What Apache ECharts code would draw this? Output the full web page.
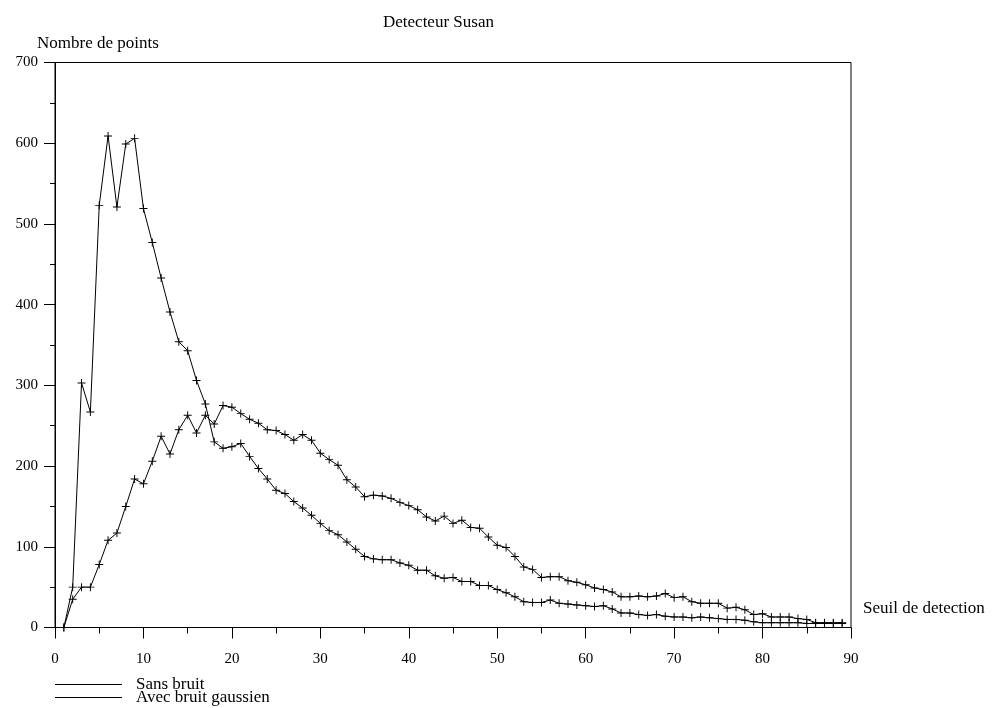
<!DOCTYPE html>
<html>
<head>
<meta charset="utf-8">
<script src="https://cdn.jsdelivr.net/npm/echarts@6/dist/echarts.min.js"></script>
<style>html,body{margin:0;padding:0;background:#fff}#c{width:997px;height:708px}</style>
</head>
<body>
<div id="c"></div>
<script>
var seuils = [1,2,3,4,5,6,7,8,9,10,11,12,13,14,15,16,17,18,19,20,21,22,23,24,25,26,27,28,29,30,31,32,33,34,35,36,37,38,39,40,41,42,43,44,45,46,47,48,49,50,51,52,53,54,55,56,57,58,59,60,61,62,63,64,65,66,67,68,69,70,71,72,73,74,75,76,77,78,79,80,81,82,83,84,85,86,87,88,89];
var avecBruit = [0,50,303,267,523,609,521,599,606,519,477,433,391,354,343,306,277,230,222,224,228,212,197,184,170,166,156,148,139,129,120,115,106,97,88,85,84,84,80,77,71,71,64,61,62,57,57,52,52,47,43,38,32,31,31,34,30,29,28,27,26,27,23,18,18,16,15,16,14,13,13,12,13,12,11,10,10,9,7,6,6,6,6,6,5,5,5,5,5];
var sansBruit = [0,35,50,50,78,108,117,150,184,178,206,237,215,245,263,241,263,252,275,273,265,258,253,245,244,239,232,239,232,216,208,201,183,174,162,164,163,160,155,151,146,137,132,138,129,133,124,123,112,102,99,88,75,72,62,63,63,58,56,53,49,47,44,38,38,39,38,39,42,37,38,32,30,30,30,24,25,22,16,17,13,13,13,11,10,6,6,6,6];
var xTicks = { min: 0, max: 90, interval: 10 };
var yTicks = { min: 0, max: 700, interval: 100 };

function pairs(xs, ys){ return xs.map(function(x,i){ return [x, ys[i]]; }); }
var FONT = 'Liberation Serif';
var TXT = 17;
var plus = 'path://M4.4,0H5.6V4.4H10V5.6H5.6V10H4.4V5.6H0V4.4H4.4Z';
function legendFor(name, top){
  return {
    left: 55, top: top, padding: 0, orient: 'vertical', itemGap: 0, itemWidth: 67, itemHeight: 1, icon: 'rect',
    textStyle: { fontFamily: FONT, fontSize: TXT, color: '#000', lineHeight: 14, padding: [0,0,0,9] },
    data: [name]
  };
}
var chart = echarts.init(document.getElementById('c'), null, {renderer:'canvas'});
chart.setOption({
  animation: false,
  backgroundColor: '#fff',
  title: { text: 'Detecteur Susan', left: 378, top: 9, textStyle: { fontFamily: FONT, fontSize: TXT, fontWeight: 'normal', color: '#000' } },
  grid: { left: 55, right: 146, top: 62.5, bottom: 80.5, show: true, borderColor: '#000', borderWidth: 1, backgroundColor: 'transparent' },
  legend: [ legendFor('Sans bruit', 676), legendFor('Avec bruit gaussien', 689) ],
  xAxis: {
    type: 'value', min: xTicks.min, max: xTicks.max, interval: xTicks.interval,
    name: 'Seuil de detection', nameLocation: 'end', nameGap: 12,
    nameTextStyle: { fontFamily: FONT, fontSize: TXT, color: '#000', align: 'left', verticalAlign: 'bottom', padding: [0,0,10,0] },
    axisLine: { lineStyle: { color: '#000', width: 1 } },
    axisTick: { length: 11, lineStyle: { color: '#000' } },
    minorTick: { show: true, splitNumber: 2, length: 6, lineStyle: { color: '#000' } },
    splitLine: { show: false },
    axisLabel: { fontFamily: FONT, fontSize: 15, color: '#000', margin: 24 }
  },
  yAxis: {
    type: 'value', min: yTicks.min, max: yTicks.max, interval: yTicks.interval,
    name: 'Nombre de points', nameLocation: 'end', nameGap: 10,
    nameTextStyle: { fontFamily: FONT, fontSize: TXT, color: '#000', align: 'left', padding: [0,0,0,-18] },
    axisLine: { show: true, lineStyle: { color: '#000', width: 1 } },
    axisTick: { show: true, length: 11, lineStyle: { color: '#000' } },
    minorTick: { show: true, splitNumber: 2, length: 5, lineStyle: { color: '#000' } },
    splitLine: { show: false },
    axisLabel: { fontFamily: FONT, fontSize: 15, color: '#000', margin: 17 }
  },
  series: [
    { name: 'Sans bruit', type: 'line', data: pairs(seuils, sansBruit), symbol: plus, symbolSize: 8, showAllSymbol: true,
      lineStyle: { color: '#000', width: 1 }, itemStyle: { color: '#000' } },
    { name: 'Avec bruit gaussien', type: 'line', data: pairs(seuils, avecBruit), symbol: plus, symbolSize: 8, showAllSymbol: true,
      lineStyle: { color: '#000', width: 1 }, itemStyle: { color: '#000' } }
  ]
});
</script>
</body>
</html>
